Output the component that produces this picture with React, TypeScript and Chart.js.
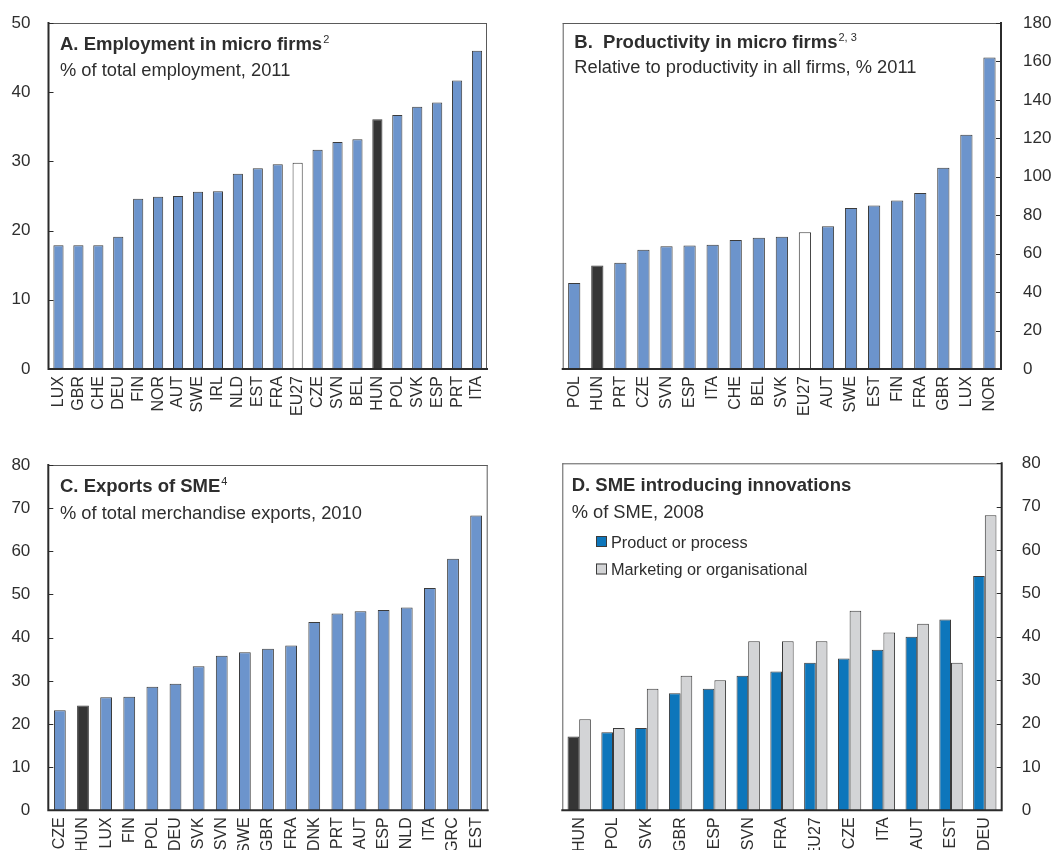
import React, { useEffect, useRef } from "react";
import { Chart, registerables } from "chart.js";

Chart.register(...registerables);

const FONT = '"Liberation Sans", Arial, Helvetica, sans-serif';

// Panel A: employment in micro firms, % of total employment, 2011
const empCountries = ["LUX", "GBR", "CHE", "DEU", "FIN", "NOR", "AUT", "SWE", "IRL", "NLD", "EST", "FRA", "EU27", "CZE", "SVN", "BEL", "HUN", "POL", "SVK", "ESP", "PRT", "ITA"];
const empShare = [17.9, 17.9, 17.9, 19.1, 24.6, 24.9, 25.0, 25.6, 25.7, 28.2, 29.0, 29.6, 29.8, 31.7, 32.8, 33.2, 36.1, 36.7, 37.9, 38.5, 41.7, 46.0];
const empTicks = [0, 10, 20, 30, 40, 50];

// Panel B: productivity in micro firms relative to all firms, % 2011
const prodCountries = ["POL", "HUN", "PRT", "CZE", "SVN", "ESP", "ITA", "CHE", "BEL", "SVK", "EU27", "AUT", "SWE", "EST", "FIN", "FRA", "GBR", "LUX", "NOR"];
const prodRelative = [44.7, 53.8, 55.3, 62.1, 63.8, 64.3, 64.7, 67.1, 68.3, 68.8, 71.1, 74.2, 83.8, 85.1, 87.7, 91.6, 104.7, 121.9, 162.1];
const prodTicks = [0, 20, 40, 60, 80, 100, 120, 140, 160, 180];

// Panel C: SME exports, % of total merchandise exports, 2010
const exportCountries = ["CZE", "HUN", "LUX", "FIN", "POL", "DEU", "SVK", "SVN", "SWE", "GBR", "FRA", "DNK", "PRT", "AUT", "ESP", "NLD", "ITA", "GRC", "EST"];
const exportShare = [23.2, 24.3, 26.2, 26.3, 28.6, 29.3, 33.4, 35.8, 36.6, 37.4, 38.2, 43.6, 45.6, 46.1, 46.4, 47.0, 51.5, 58.3, 68.3];
const exportTicks = [0, 10, 20, 30, 40, 50, 60, 70, 80];

// Panel D: SMEs introducing innovations, % of SME, 2008
const innovCountries = ["HUN", "POL", "SVK", "GBR", "ESP", "SVN", "FRA", "EU27", "CZE", "ITA", "AUT", "EST", "DEU"];
const productProcess = [17, 18, 19, 27, 28, 31, 32, 34, 35, 37, 40, 44, 54];
const marketingOrg = [21, 19, 28, 31, 30, 39, 39, 39, 46, 41, 43, 34, 68];
const innovTicks = [0, 10, 20, 30, 40, 50, 60, 70, 80];
const innovSeries = ["Product or process", "Marketing or organisational"];

const BLUE = "#6c94cc";
const DARK = "#353535";
const WHITE = "#ffffff";
const PRODUCT = "#0d76bb";
const MARKETING = "#d3d4d6";
const EDGE = "#3b3b3b";
const TEXT = "#2e2e2e";

const W = 530;
const H = 425;

function barColour(country: string) {
  if (country === "HUN") return DARK;
  if (country.startsWith("EU")) return WHITE;
  return BLUE;
}

type Deco = {
  title: string;
  sup?: string;
  subtitle: string;
  dx: number;
  titleY: number;
  subY: number;
  side: "left" | "right";
  legend?: { labels: string[]; colours: string[]; dx: number; y0: number; gap: number };
};

function makeDecor(deco: Deco) {
  return {
    id: "panelDecor",
    afterDraw(chart: any) {
      const { ctx, chartArea: a } = chart;
      const yScale = chart.scales.y;
      ctx.save();

      // plot frame
      ctx.strokeStyle = "#5a5a5a";
      ctx.lineWidth = 1;
      ctx.beginPath();
      ctx.moveTo(a.left, a.top + 0.5);
      ctx.lineTo(a.right, a.top + 0.5);
      if (deco.side === "left") {
        ctx.moveTo(a.right - 0.5, a.top);
        ctx.lineTo(a.right - 0.5, a.bottom);
      } else {
        ctx.moveTo(a.left + 0.5, a.top);
        ctx.lineTo(a.left + 0.5, a.bottom);
      }
      ctx.stroke();

      // value axis and base line
      ctx.strokeStyle = "#2b2b2b";
      ctx.lineWidth = 2;
      ctx.beginPath();
      ctx.moveTo(a.left - 1, a.bottom);
      ctx.lineTo(a.right + 1, a.bottom);
      const ax = deco.side === "left" ? a.left : a.right;
      ctx.moveTo(ax, a.top - 1);
      ctx.lineTo(ax, a.bottom + 1);
      ctx.stroke();

      // inward tick marks
      ctx.lineWidth = 1.2;
      ctx.beginPath();
      yScale.ticks.forEach((_: any, i: number) => {
        const py = Math.round(yScale.getPixelForTick(i)) + 0.5;
        const dir = deco.side === "left" ? 1 : -1;
        ctx.moveTo(ax, py);
        ctx.lineTo(ax + dir * 5, py);
      });
      ctx.stroke();

      // title, superscript and subtitle
      ctx.fillStyle = TEXT;
      ctx.textBaseline = "alphabetic";
      ctx.textAlign = "left";
      const tx = a.left + deco.dx;
      ctx.font = `bold 18.5px ${FONT}`;
      ctx.fillText(deco.title, tx, a.top + deco.titleY);
      if (deco.sup) {
        const w = ctx.measureText(deco.title).width;
        ctx.font = `11px ${FONT}`;
        ctx.fillText(deco.sup, tx + w + 1, a.top + deco.titleY - 7);
      }
      ctx.font = `18.3px ${FONT}`;
      ctx.fillText(deco.subtitle, tx, a.top + deco.subY);

      // legend
      if (deco.legend) {
        const lg = deco.legend;
        ctx.font = `16.3px ${FONT}`;
        lg.labels.forEach((label, i) => {
          const by = a.top + lg.y0 + i * lg.gap;
          const bx = a.left + lg.dx;
          ctx.fillStyle = lg.colours[i];
          ctx.fillRect(bx, by, 11, 11);
          ctx.strokeStyle = EDGE;
          ctx.lineWidth = 1;
          ctx.strokeRect(bx + 0.5, by + 0.5, 10, 10);
          ctx.fillStyle = TEXT;
          ctx.fillText(label, bx + 15, by + 11.5);
        });
      }
      ctx.restore();
    },
  };
}

type PanelSpec = {
  labels: string[];
  datasets: any[];
  ticks: number[];
  side: "left" | "right";
  padding: { top: number; right: number; left: number; bottom: number };
  yWidth: number;
  xHeight: number;
  yPad: number;
  deco: Deco;
};

function buildConfig(p: PanelSpec): any {
  const step = p.ticks[1] - p.ticks[0];
  return {
    type: "bar",
    data: { labels: p.labels, datasets: p.datasets },
    options: {
      responsive: false,
      animation: false,
      devicePixelRatio: 1,
      layout: { padding: p.padding },
      plugins: { legend: { display: false }, tooltip: { enabled: false } },
      scales: {
        x: {
          grid: { display: false, drawTicks: false },
          border: { display: false },
          ticks: {
            autoSkip: false,
            minRotation: 90,
            maxRotation: 90,
            padding: 7,
            color: TEXT,
            font: { family: FONT, size: 16 },
          },
          afterFit: (s: any) => {
            s.height = p.xHeight;
          },
        },
        y: {
          position: p.side,
          min: p.ticks[0],
          max: p.ticks[p.ticks.length - 1],
          // the gap between axis and labels comes from an invisible tick length
          grid: { display: false, drawTicks: true, tickLength: p.yPad - 3 },
          border: { display: false },
          ticks: {
            stepSize: step,
            padding: 3,
            color: TEXT,
            font: { family: FONT, size: 17 },
          },
          afterFit: (s: any) => {
            s.width = p.yWidth;
          },
        },
      },
    },
    plugins: [makeDecor(p.deco)],
  };
}

function singleSeries(labels: string[], values: number[], barPct: number) {
  return [
    {
      data: values,
      backgroundColor: labels.map(barColour),
      borderColor: EDGE,
      borderWidth: 1,
      categoryPercentage: 1,
      barPercentage: barPct,
    },
  ];
}

const panelA = buildConfig({
  labels: empCountries,
  datasets: singleSeries(empCountries, empShare, 0.51),
  ticks: empTicks,
  side: "left",
  padding: { top: 23, right: 43, left: 0, bottom: 0 },
  yWidth: 48.5,
  xHeight: 56,
  yPad: 18,
  deco: {
    title: "A. Employment in micro firms",
    sup: "2",
    subtitle: "% of total employment, 2011",
    dx: 11.5,
    titleY: 27,
    subY: 53,
    side: "left",
  },
});

const panelB = buildConfig({
  labels: prodCountries,
  datasets: singleSeries(prodCountries, prodRelative, 0.53),
  ticks: prodTicks,
  side: "right",
  padding: { top: 23, right: 0, left: 32.7, bottom: 0 },
  yWidth: 59,
  xHeight: 56,
  yPad: 22,
  deco: {
    title: "B.  Productivity in micro firms",
    sup: "2, 3",
    subtitle: "Relative to productivity in all firms, % 2011",
    dx: 11.6,
    titleY: 25,
    subY: 50,
    side: "right",
  },
});

const panelC = buildConfig({
  labels: exportCountries,
  datasets: singleSeries(exportCountries, exportShare, 0.51),
  ticks: exportTicks,
  side: "left",
  padding: { top: 40, right: 42.3, left: 0, bottom: 0 },
  yWidth: 48.3,
  xHeight: 39.7,
  yPad: 18,
  deco: {
    title: "C. Exports of SME",
    sup: "4",
    subtitle: "% of total merchandise exports, 2010",
    dx: 11.7,
    titleY: 27.3,
    subY: 54.3,
    side: "left",
  },
});

const panelD = buildConfig({
  labels: innovCountries,
  datasets: [
    {
      label: innovSeries[0],
      data: productProcess,
      backgroundColor: innovCountries.map((c) => (c === "HUN" ? DARK : PRODUCT)),
      borderColor: EDGE,
      borderWidth: 1,
      categoryPercentage: 0.69,
      barPercentage: 1,
    },
    {
      label: innovSeries[1],
      data: marketingOrg,
      backgroundColor: MARKETING,
      borderColor: EDGE,
      borderWidth: 1,
      categoryPercentage: 0.69,
      barPercentage: 1,
    },
  ],
  ticks: innovTicks,
  side: "right",
  padding: { top: 38.3, right: 0, left: 32.3, bottom: 0 },
  yWidth: 58.3,
  xHeight: 39.7,
  yPad: 20,
  deco: {
    title: "D. SME introducing innovations",
    subtitle: "% of SME, 2008",
    dx: 9.4,
    titleY: 27.7,
    subY: 54.4,
    side: "right",
    legend: { labels: innovSeries, colours: [PRODUCT, MARKETING], dx: 33.7, y0: 72.7, gap: 27.5 },
  },
});

function Panel({ config, left, top }: { config: any; left: number; top: number }) {
  const ref = useRef<HTMLCanvasElement>(null);
  useEffect(() => {
    const chart = new Chart(ref.current as HTMLCanvasElement, config);
    return () => chart.destroy();
  }, [config]);
  return (
    <canvas
      ref={ref}
      width={W}
      height={H}
      style={{ position: "absolute", left, top, width: W, height: H }}
    />
  );
}

export default function App() {
  return (
    <div
      style={{
        position: "absolute",
        left: 0,
        top: 0,
        width: 1060,
        height: 850,
        background: "#ffffff",
        overflow: "hidden",
      }}
    >
      <Panel config={panelA} left={0} top={0} />
      <Panel config={panelB} left={530} top={0} />
      <Panel config={panelC} left={0} top={425} />
      <Panel config={panelD} left={530} top={425} />
    </div>
  );
}
